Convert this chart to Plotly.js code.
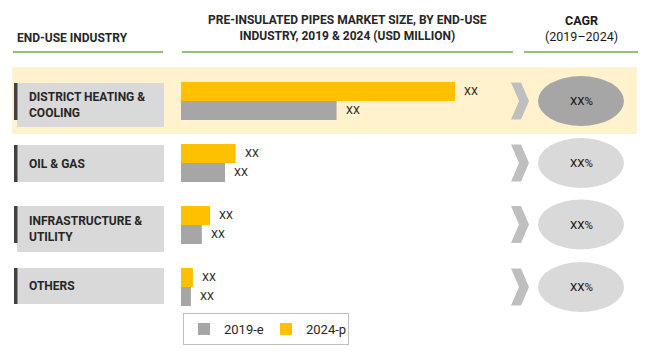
<!DOCTYPE html>
<html>
<head>
<meta charset="utf-8">
<script src="https://cdn.plot.ly/plotly-3.0.1.min.js"></script>
<style>html,body{margin:0;padding:0;background:#fff}#chart{width:654px;height:362px}</style>
</head>
<body>
<div id="chart"></div>
<script>
// ---- data ----
const categories = ["District Heating & Cooling", "Oil & Gas", "Infrastructure & Utility", "Others"];
const categoryLabels = ["DISTRICT HEATING &<br>COOLING", "OIL & GAS", "INFRASTRUCTURE &<br>UTILITY", "OTHERS"];
const values2019 = [47.0, 13.3, 6.3, 3.0];
const values2024 = [82.8, 16.5, 8.8, 3.6];
const valueLabels2019 = ["XX", "XX", "XX", "XX"];
const valueLabels2024 = ["XX", "XX", "XX", "XX"];
const cagrLabels = ["XX%", "XX%", "XX%", "XX%"];
const seriesNames = ["2019-e", "2024-p"];
const headerIndustry = "END-USE INDUSTRY";
const headerChart = "PRE-INSULATED PIPES MARKET SIZE, BY END-USE<br>INDUSTRY, 2019 & 2024 (USD MILLION)";
const headerCagrTop = "CAGR";
const headerCagrBottom = "(2019–2024)";

// ---- layout helpers ----
const W = 654, H = 362;
const X = p => p / W;
const Y = p => 1 - p / H;
const rowCenters = [101, 163, 224.5, 287];
const FONT = "Roboto, Liberation Sans, sans-serif";
const GREEN = "#70AD47", GRAY = "#A6A6A6", YELLOW = "#FFC000";

const traces = [
  {type: "bar", orientation: "h", name: seriesNames[1], y: categories, x: values2024,
   marker: {color: YELLOW}, hoverinfo: "skip"},
  {type: "bar", orientation: "h", name: seriesNames[0], y: categories, x: values2019,
   marker: {color: GRAY}, hoverinfo: "skip"}
];

const shapes = [];
const annotations = [];
// highlight band
shapes.push({type: "rect", xref: "paper", yref: "paper", x0: X(12), x1: X(637), y0: Y(67), y1: Y(134),
  fillcolor: "#FFF2CC", line: {width: 0}, layer: "below"});
// header lines
[[13, 163], [182, 513], [524, 638]].forEach(([a, b]) => shapes.push({type: "line", xref: "paper", yref: "paper",
  x0: X(a), x1: X(b), y0: Y(52), y1: Y(52), line: {color: GREEN, width: 1.3}}));
// headers
annotations.push({xref: "paper", yref: "paper", x: X(15), y: Y(38), xanchor: "left", yanchor: "middle",
  text: "<b>" + headerIndustry + "</b>", showarrow: false, font: {family: FONT, size: 12, color: "#262626"}});
annotations.push({xref: "paper", yref: "paper", x: X(347), y: Y(28), xanchor: "center", yanchor: "middle",
  text: "<b>" + headerChart + "</b>", showarrow: false, align: "center", font: {family: FONT, size: 12, color: "#262626"}});
annotations.push({xref: "paper", yref: "paper", x: X(581), y: Y(28), xanchor: "center", yanchor: "middle",
  text: "<b>" + headerCagrTop + "</b><br>" + headerCagrBottom, showarrow: false, align: "center",
  font: {family: FONT, size: 12.5, color: "#1a1a1a"}});

// row label boxes
const boxSpans = [[83, 127], [145, 182], [206, 252], [268, 304]];
const barSpans = [[83, 120], [145, 182], [206, 243], [268, 304]];
categories.forEach((c, i) => {
  const [t, b] = boxSpans[i];
  shapes.push({type: "rect", xref: "paper", yref: "paper", x0: X(17), x1: X(164), y0: Y(b), y1: Y(t),
    fillcolor: "#D9D9D9", line: {width: 0}, layer: "below"});
  shapes.push({type: "rect", xref: "paper", yref: "paper", x0: X(14), x1: X(17.5), y0: Y(barSpans[i][1]), y1: Y(barSpans[i][0]),
    fillcolor: "#404040", line: {width: 0}, layer: "below"});
  annotations.push({xref: "paper", yref: "paper", x: X(27), y: Y((t + b) / 2), xanchor: "left", yanchor: "middle",
    text: "<b>" + categoryLabels[i] + "</b>", align: "left", showarrow: false,
    font: {family: FONT, size: 12, color: "#262626"}});
  // chevron
  const cy = rowCenters[i];
  const p = [[511, cy - 18.5], [521, cy - 18.5], [529, cy], [521, cy + 18.5], [511, cy + 18.5], [519, cy]];
  shapes.push({type: "path", xref: "paper", yref: "paper",
    path: "M" + p.map(q => X(q[0]) + "," + Y(q[1])).join(" L") + " Z",
    fillcolor: "#BFBFBF", line: {width: 0}});
  // ellipse
  shapes.push({type: "circle", xref: "paper", yref: "paper", x0: X(538), x1: X(624), y0: Y(cy + 25), y1: Y(cy - 25),
    fillcolor: i === 0 ? "#A6A6A6" : "#D9D9D9", line: {width: 0}});
  annotations.push({xref: "paper", yref: "paper", x: X(581), y: Y(cy), xanchor: "center", yanchor: "middle",
    text: cagrLabels[i], showarrow: false, font: {family: FONT, size: 11.5, color: "#111"}});
  // value labels
  annotations.push({xref: "x", yref: "y", x: values2024[i], y: c, yshift: 9.5, xshift: 7, xanchor: "left", yanchor: "middle",
    text: valueLabels2024[i], showarrow: false, font: {family: FONT, size: 11, color: "#262626"}});
  annotations.push({xref: "x", yref: "y", x: values2019[i], y: c, yshift: -9.5, xshift: 7, xanchor: "left", yanchor: "middle",
    text: valueLabels2019[i], showarrow: false, font: {family: FONT, size: 11, color: "#262626"}});
});

const layout = {
  width: W, height: H,
  margin: {l: 0, r: 0, t: 0, b: 0},
  paper_bgcolor: "#fff", plot_bgcolor: "rgba(0,0,0,0)",
  barmode: "group", bargap: 0.387, bargroupgap: 0,
  xaxis: {domain: [X(181), X(512)], range: [0, 100], showgrid: false, zeroline: false, showticklabels: false, showline: false, fixedrange: true},
  yaxis: {domain: [Y(318), Y(70)], range: [3.5, -0.5], type: "category", showgrid: false, zeroline: false, showticklabels: false, showline: false, fixedrange: true},
  showlegend: true,
  legend: {orientation: "h", x: X(183), y: Y(313), xanchor: "left", yanchor: "top", traceorder: "reversed",
    bordercolor: "#BFBFBF", borderwidth: 1, bgcolor: "#fff", entrywidth: 37, entrywidthmode: "pixels",
    itemwidth: 30, font: {family: FONT, size: 13, color: "#262626"}},
  shapes: shapes, annotations: annotations
};
Plotly.newPlot("chart", traces, layout, {displayModeBar: false, staticPlot: true});
</script>
</body>
</html>
